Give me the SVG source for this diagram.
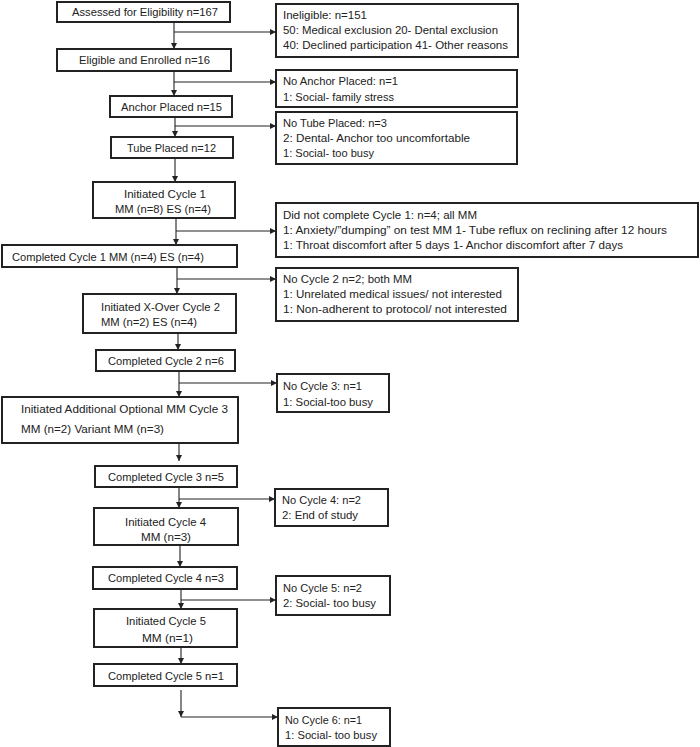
<svg xmlns="http://www.w3.org/2000/svg" width="700" height="747" viewBox="0 0 700 747">
<defs>
<marker id="ah" markerUnits="userSpaceOnUse" markerWidth="7" markerHeight="6" refX="6" refY="3" orient="auto">
<path d="M0,0 L6,3 L0,6 Z" fill="#222"/>
</marker>
<style>
.box{fill:#fff;stroke:#222;stroke-width:2}
.t{font-family:"Liberation Sans",Arial,sans-serif;font-size:11.5px;fill:#222}
.c{text-anchor:middle}
.ln{fill:none;stroke:#222;stroke-width:1.1}
.ar{marker-end:url(#ah)}
</style>
</defs>
<rect width="700" height="747" fill="#fff"/>

<g id="connectors">
<path class="ln ar" d="M174,22 V49"/>
<path class="ln ar" d="M174,32 H276"/>
<path class="ln ar" d="M174,71 V96"/>
<path class="ln ar" d="M174,82 H276"/>
<path class="ln ar" d="M175,117 V137"/>
<path class="ln ar" d="M175,126 H276"/>
<path class="ln ar" d="M175,158 V182"/>
<path class="ln ar" d="M176,218 V245"/>
<path class="ln ar" d="M176,231 H276"/>
<path class="ln ar" d="M177,267 V294"/>
<path class="ln ar" d="M177,279 H276"/>
<path class="ln ar" d="M178,329 V350"/>
<path class="ln ar" d="M179,371 V397"/>
<path class="ln ar" d="M179,383 H277"/>
<path class="ln ar" d="M179,435 V461"/>
<path class="ln ar" d="M179,487 V508"/>
<path class="ln ar" d="M179,499 H275"/>
<path class="ln ar" d="M180,545 V567"/>
<path class="ln ar" d="M181,589 V609"/>
<path class="ln ar" d="M181,600 H276"/>
<path class="ln ar" d="M181,643 V664"/>
<path class="ln ar" d="M181,690 V717"/>
<path class="ln ar" d="M181,717 H278"/>
</g>

<g id="n1"><rect class="box" x="57" y="2" width="173" height="20"/><text class="t c" x="145" y="16" textLength="146" lengthAdjust="spacingAndGlyphs">Assessed for Eligibility n=167</text></g>
<g id="n2"><rect class="box" x="57" y="49" width="174" height="22"/><text class="t c" x="144.5" y="64" textLength="131" lengthAdjust="spacingAndGlyphs">Eligible and Enrolled n=16</text></g>
<g id="n3"><rect class="box" x="110" y="96" width="122" height="21"/><text class="t c" x="171.5" y="111" textLength="101" lengthAdjust="spacingAndGlyphs">Anchor Placed n=15</text></g>
<g id="n4"><rect class="box" x="111" y="137" width="122" height="21"/><text class="t c" x="171.5" y="152" textLength="89" lengthAdjust="spacingAndGlyphs">Tube Placed n=12</text></g>
<g id="n5"><rect class="box" x="93" y="182" width="142" height="36"/><text class="t c" x="165" y="198" textLength="82" lengthAdjust="spacingAndGlyphs">Initiated Cycle 1</text><text class="t c" x="163" y="213" textLength="96" lengthAdjust="spacingAndGlyphs">MM (n=8) ES (n=4)</text></g>
<g id="n6"><rect class="box" x="2" y="245" width="235" height="22"/><text class="t" x="12" y="261" textLength="192" lengthAdjust="spacingAndGlyphs">Completed Cycle 1 MM (n=4) ES (n=4)</text></g>
<g id="n7"><rect class="box" x="83" y="294" width="153" height="39"/><text class="t" x="101" y="311" textLength="119" lengthAdjust="spacingAndGlyphs">Initiated X-Over Cycle 2</text><text class="t" x="101" y="326" textLength="96" lengthAdjust="spacingAndGlyphs">MM (n=2) ES (n=4)</text></g>
<g id="n8"><rect class="box" x="96" y="350" width="139" height="21"/><text class="t c" x="166" y="365" textLength="116" lengthAdjust="spacingAndGlyphs">Completed Cycle 2 n=6</text></g>
<g id="n9"><rect class="box" x="2" y="397" width="236" height="46"/><text class="t" x="21" y="413" textLength="207" lengthAdjust="spacingAndGlyphs">Initiated Additional Optional MM Cycle 3</text><text class="t" x="21" y="433" textLength="143" lengthAdjust="spacingAndGlyphs">MM (n=2) Variant MM (n=3)</text></g>
<g id="n10"><rect class="box" x="95" y="466" width="142" height="21"/><text class="t c" x="166" y="481" textLength="116" lengthAdjust="spacingAndGlyphs">Completed Cycle 3 n=5</text></g>
<g id="n11"><rect class="box" x="94" y="508" width="144" height="37"/><text class="t c" x="165.5" y="526" textLength="81" lengthAdjust="spacingAndGlyphs">Initiated Cycle 4</text><text class="t c" x="166" y="541" textLength="50" lengthAdjust="spacingAndGlyphs">MM (n=3)</text></g>
<g id="n12"><rect class="box" x="93" y="567" width="144" height="22"/><text class="t c" x="166" y="582" textLength="116" lengthAdjust="spacingAndGlyphs">Completed Cycle 4 n=3</text></g>
<g id="n13"><rect class="box" x="94" y="609" width="143" height="38"/><text class="t c" x="166" y="625" textLength="80" lengthAdjust="spacingAndGlyphs">Initiated Cycle 5</text><text class="t c" x="167.5" y="642" textLength="51" lengthAdjust="spacingAndGlyphs">MM (n=1)</text></g>
<g id="n14"><rect class="box" x="94" y="664" width="143" height="22"/><text class="t c" x="166" y="680" textLength="116" lengthAdjust="spacingAndGlyphs">Completed Cycle 5 n=1</text></g>

<g id="x1"><rect class="box" x="276" y="4" width="242" height="53"/>
<text class="t" x="283" y="19" textLength="84" lengthAdjust="spacingAndGlyphs">Ineligible: n=151</text>
<text class="t" x="283" y="34" textLength="215" lengthAdjust="spacingAndGlyphs">50: Medical exclusion 20- Dental exclusion</text>
<text class="t" x="283" y="49" textLength="225" lengthAdjust="spacingAndGlyphs">40: Declined participation 41- Other reasons</text></g>
<g id="x2"><rect class="box" x="276" y="70" width="241" height="37"/>
<text class="t" x="283" y="85" textLength="115" lengthAdjust="spacingAndGlyphs">No Anchor Placed: n=1</text>
<text class="t" x="283" y="101" textLength="111" lengthAdjust="spacingAndGlyphs">1: Social- family stress</text></g>
<g id="x3"><rect class="box" x="276" y="112" width="241" height="52"/>
<text class="t" x="283" y="127" textLength="104" lengthAdjust="spacingAndGlyphs">No Tube Placed: n=3</text>
<text class="t" x="283" y="142" textLength="187" lengthAdjust="spacingAndGlyphs">2: Dental- Anchor too uncomfortable</text>
<text class="t" x="283" y="157" textLength="91" lengthAdjust="spacingAndGlyphs">1: Social- too busy</text></g>
<g id="x4"><rect class="box" x="276" y="203" width="422" height="54"/>
<text class="t" x="283" y="219" textLength="194" lengthAdjust="spacingAndGlyphs">Did not complete Cycle 1: n=4; all MM</text>
<text class="t" x="283" y="234" textLength="384" lengthAdjust="spacingAndGlyphs">1: Anxiety/”dumping” on test MM 1- Tube reflux on reclining after 12 hours</text>
<text class="t" x="283" y="249" textLength="340" lengthAdjust="spacingAndGlyphs">1: Throat discomfort after 5 days 1- Anchor discomfort after 7 days</text></g>
<g id="x5"><rect class="box" x="276" y="268" width="242" height="53"/>
<text class="t" x="283" y="283" textLength="129" lengthAdjust="spacingAndGlyphs">No Cycle 2 n=2; both MM</text>
<text class="t" x="283" y="298" textLength="219" lengthAdjust="spacingAndGlyphs">1: Unrelated medical issues/ not interested</text>
<text class="t" x="283" y="313" textLength="224" lengthAdjust="spacingAndGlyphs">1: Non-adherent to protocol/ not interested</text></g>
<g id="x6"><rect class="box" x="277" y="374" width="112" height="38"/>
<text class="t" x="283" y="390" textLength="79" lengthAdjust="spacingAndGlyphs">No Cycle 3: n=1</text>
<text class="t" x="283" y="406" textLength="90" lengthAdjust="spacingAndGlyphs">1: Social-too busy</text></g>
<g id="x7"><rect class="box" x="275" y="489" width="113" height="37"/>
<text class="t" x="282" y="504" textLength="79" lengthAdjust="spacingAndGlyphs">No Cycle 4: n=2</text>
<text class="t" x="282" y="519" textLength="76" lengthAdjust="spacingAndGlyphs">2: End of study</text></g>
<g id="x8"><rect class="box" x="276" y="576" width="114" height="39"/>
<text class="t" x="283" y="592" textLength="79" lengthAdjust="spacingAndGlyphs">No Cycle 5: n=2</text>
<text class="t" x="283" y="607" textLength="93" lengthAdjust="spacingAndGlyphs">2: Social- too busy</text></g>
<g id="x9"><rect class="box" x="278" y="708" width="112" height="38"/>
<text class="t" x="285" y="724" textLength="77" lengthAdjust="spacingAndGlyphs">No Cycle 6: n=1</text>
<text class="t" x="285" y="739" textLength="92" lengthAdjust="spacingAndGlyphs">1: Social- too busy</text></g>
</svg>
